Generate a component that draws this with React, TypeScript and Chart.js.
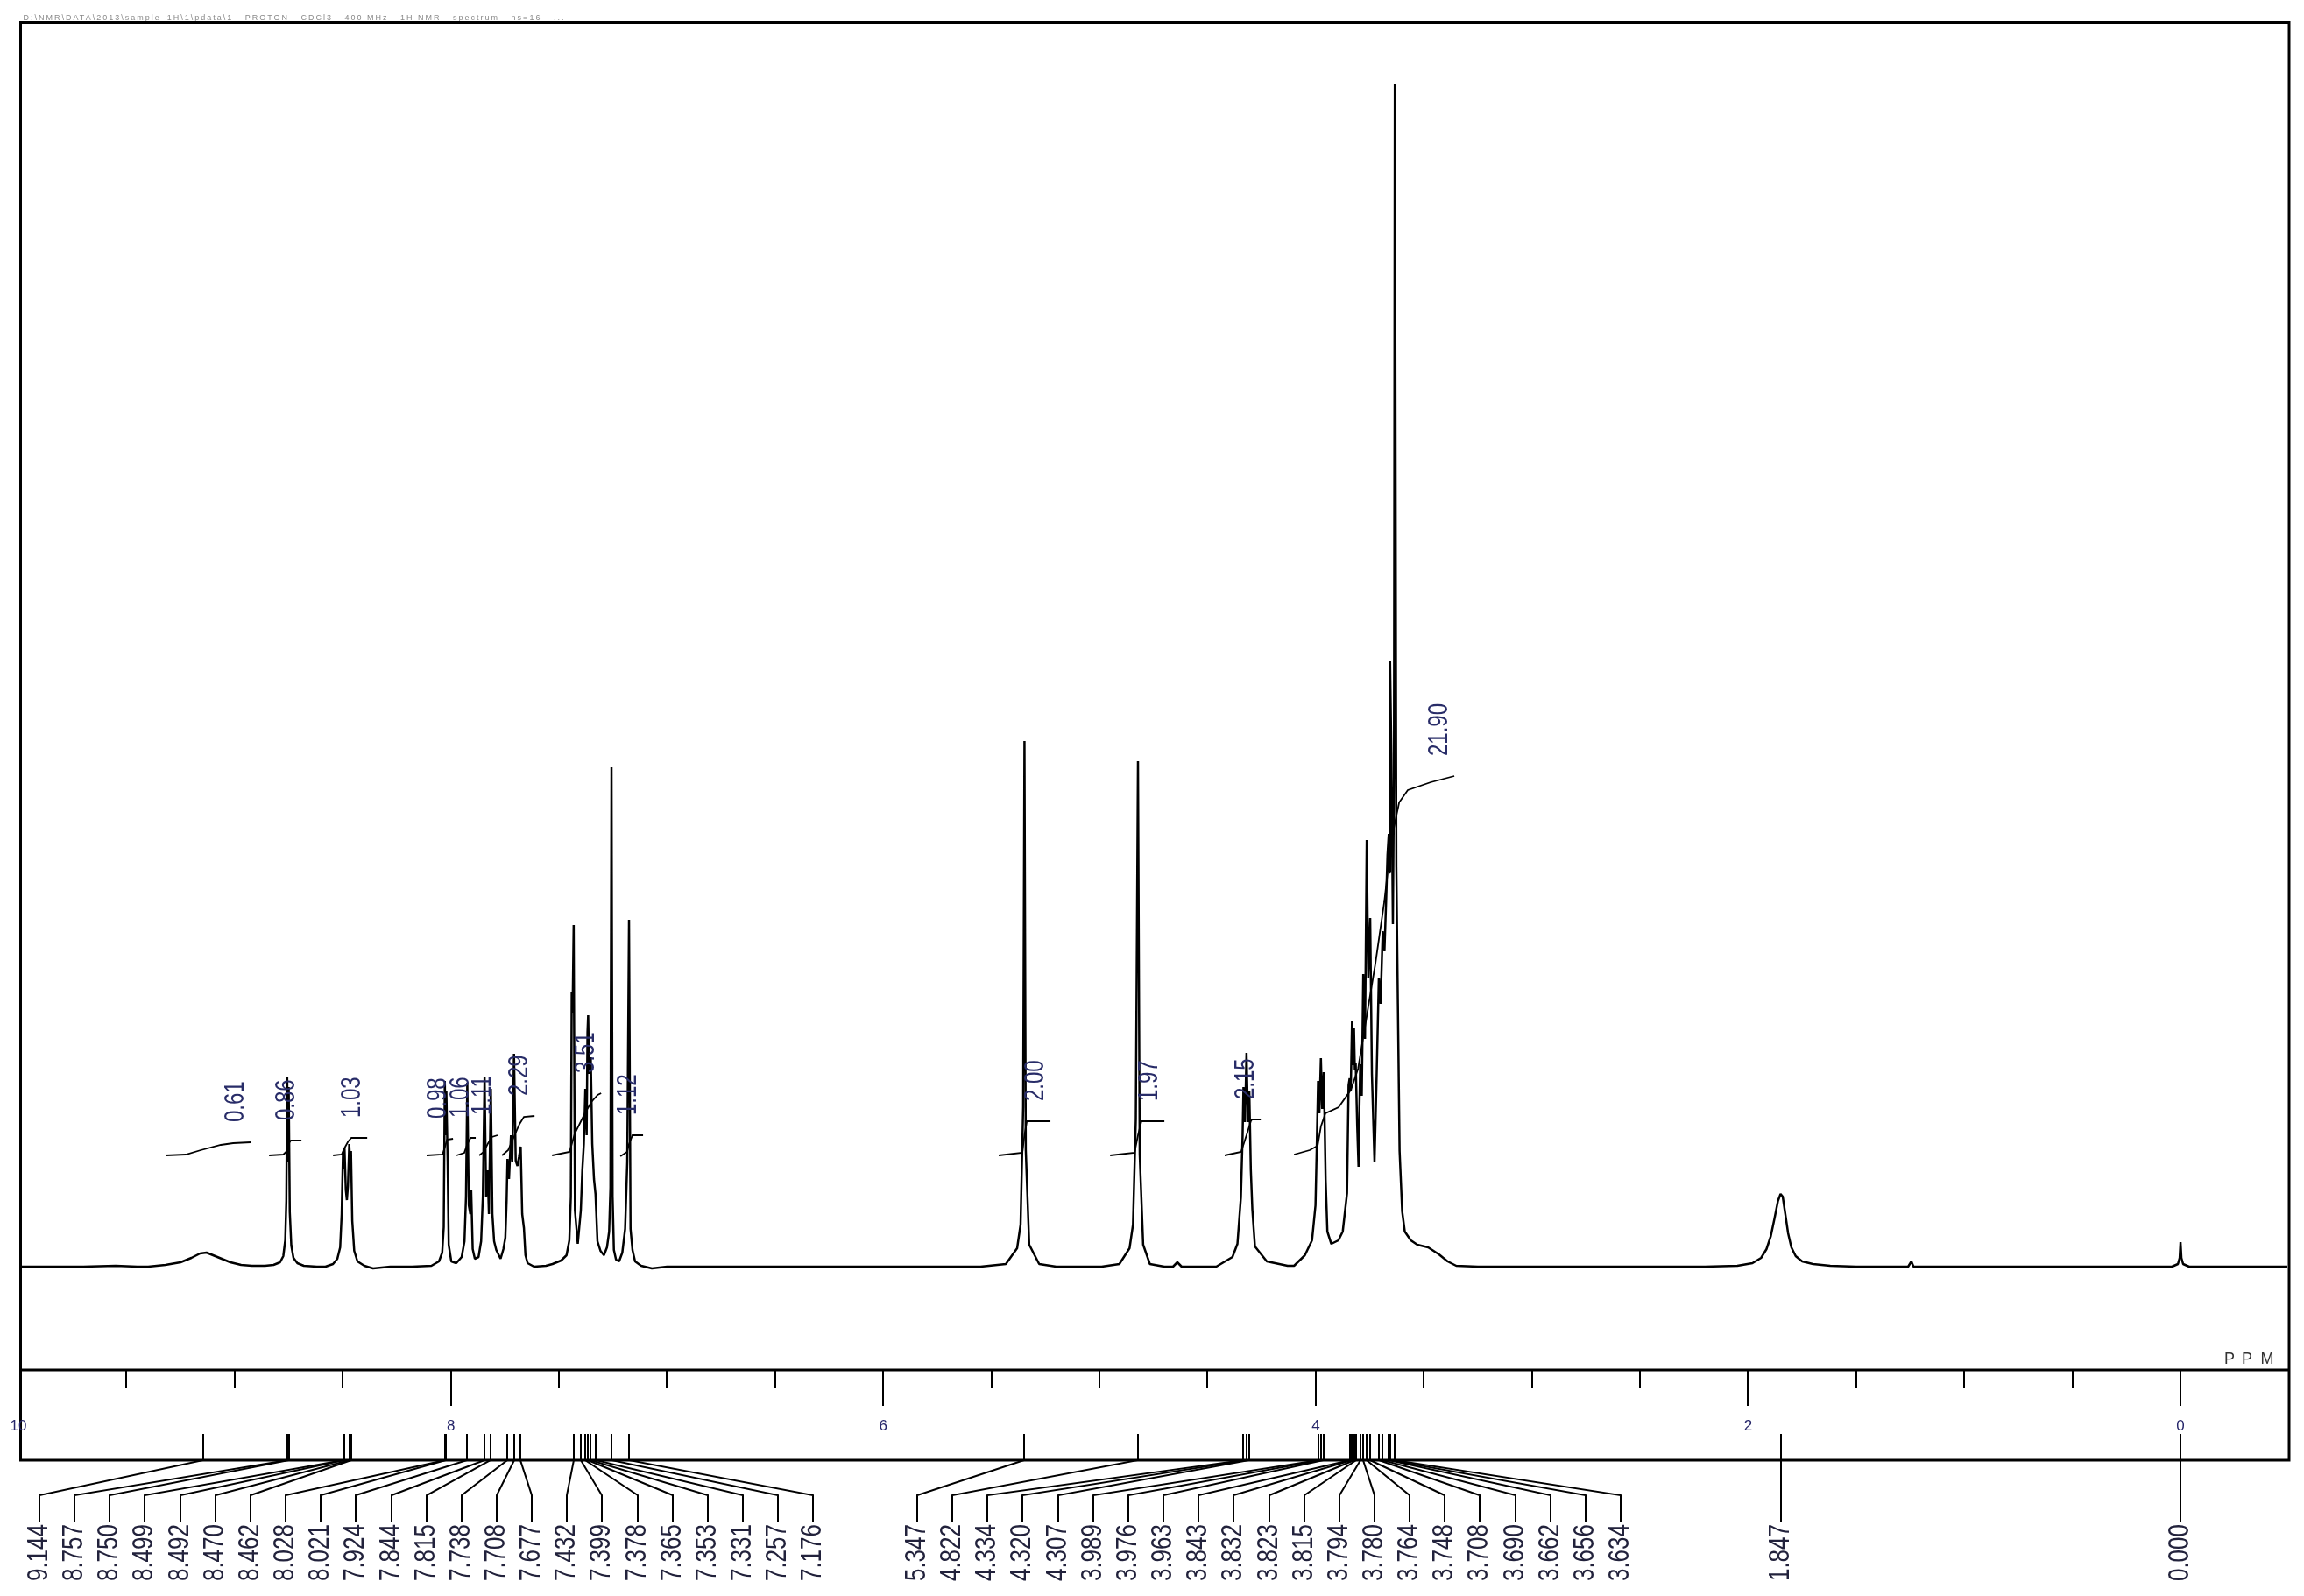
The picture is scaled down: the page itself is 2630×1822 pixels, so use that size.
import React, { useEffect, useRef } from "react";
import { Chart, registerables } from "chart.js";

Chart.register(...registerables);

// ---------- axis range (ppm, reversed) and intensity range ----------
const ppmMax = 9.984;
const ppmMin = -0.494;
const intensityMin = -117;
const intensityMax = 1419;

const majorTicks = [10, 8, 6, 4, 2, 0];
const minorTicks = [9.5, 9, 8.5, 7.5, 7, 6.5, 5.5, 5, 4.5, 3.5, 3, 2.5, 1.5, 1, 0.5];

// ---------- spectrum trace: [ppm, intensity] vertices ----------
const traceEdgeLeft = [[9.984, 0], [9.7, 0], [9.55, 1], [9.45, 0]];
const traceHump914 = [[9.4, 0], [9.32, 2], [9.25, 5], [9.2, 10], [9.16, 15], [9.13, 16], [9.1, 13], [9.06, 9], [9.02, 5], [8.97, 2], [8.92, 1], [8.86, 1]];
const traceDoublet875 = [[8.82, 2], [8.79, 5], [8.775, 12], [8.766, 30], [8.761, 75], [8.757, 217], [8.7535, 120], [8.75, 205], [8.745, 62], [8.738, 24], [8.728, 10], [8.71, 4], [8.68, 1], [8.62, 0]];
const traceMultiplet848 = [[8.58, 0], [8.545, 3], [8.525, 9], [8.512, 22], [8.505, 60], [8.499, 130], [8.4955, 112], [8.492, 136], [8.486, 88], [8.481, 76], [8.476, 92], [8.47, 140], [8.466, 118], [8.462, 132], [8.456, 52], [8.447, 18], [8.432, 6], [8.4, 1], [8.36, -2], [8.28, 0]];
const traceAromatic80to76 = [[8.18, 0], [8.09, 1], [8.055, 6], [8.04, 16], [8.033, 45], [8.028, 212], [8.0245, 150], [8.021, 200], [8.015, 121], [8.01, 25], [7.998, 6], [7.975, 4], [7.95, 11], [7.937, 29], [7.93, 80], [7.924, 210], [7.917, 70], [7.91, 60], [7.906, 88], [7.899, 20], [7.889, 9], [7.872, 11], [7.86, 29], [7.852, 80], [7.844, 216], [7.837, 80], [7.83, 110], [7.824, 60], [7.815, 203], [7.808, 60], [7.8, 29], [7.79, 19], [7.77, 9], [7.757, 20], [7.748, 33], [7.742, 76], [7.738, 123], [7.731, 100], [7.722, 150], [7.716, 120], [7.708, 243], [7.7, 121], [7.692, 115], [7.685, 125], [7.677, 137], [7.67, 60], [7.662, 44], [7.655, 13], [7.645, 4], [7.615, 0]];
const traceAromatic75to71 = [[7.56, 1], [7.53, 3], [7.49, 7], [7.465, 13], [7.452, 30], [7.445, 80], [7.441, 313], [7.437, 290], [7.432, 390], [7.426, 64], [7.413, 26], [7.406, 45], [7.399, 64], [7.392, 110], [7.385, 140], [7.378, 203], [7.372, 150], [7.368, 268], [7.365, 287], [7.36, 220], [7.353, 239], [7.346, 140], [7.338, 100], [7.331, 83], [7.322, 29], [7.308, 18], [7.292, 13], [7.278, 22], [7.268, 40], [7.262, 90], [7.257, 570], [7.252, 80], [7.246, 19], [7.236, 8], [7.222, 6], [7.207, 16], [7.194, 43], [7.184, 120], [7.176, 396], [7.169, 43], [7.16, 19], [7.148, 6], [7.12, 1], [7.07, -2], [7.0, 0]];
const traceSinglet535 = [[5.55, 0], [5.433, 3], [5.381, 21], [5.365, 48], [5.353, 182], [5.347, 600], [5.341, 133], [5.325, 25], [5.279, 3], [5.2, 0]];
const traceSinglet482 = [[4.99, 0], [4.908, 3], [4.861, 21], [4.845, 48], [4.832, 168], [4.822, 577], [4.814, 128], [4.798, 25], [4.767, 3], [4.7, 0], [4.66, 0], [4.64, 5], [4.62, 0], [4.5, 0]];
const traceTriplet432 = [[4.46, 0], [4.385, 11], [4.362, 26], [4.346, 79], [4.338, 150], [4.334, 205], [4.327, 165], [4.32, 244], [4.313, 165], [4.307, 200], [4.3, 110], [4.293, 65], [4.281, 23], [4.226, 6], [4.13, 1]];
const traceAliphatic40to34 = [[4.1, 1], [4.05, 13], [4.017, 30], [4.001, 70], [3.995, 138], [3.989, 212], [3.983, 175], [3.976, 238], [3.97, 180], [3.963, 222], [3.958, 158], [3.954, 99], [3.946, 40], [3.928, 26], [3.895, 30], [3.875, 40], [3.855, 84], [3.848, 207], [3.843, 215], [3.838, 200], [3.832, 280], [3.827, 230], [3.823, 272], [3.819, 225], [3.815, 232], [3.808, 160], [3.802, 114], [3.798, 180], [3.794, 231], [3.787, 195], [3.78, 334], [3.772, 260], [3.764, 487], [3.757, 330], [3.748, 398], [3.74, 220], [3.728, 119], [3.718, 220], [3.708, 330], [3.7, 300], [3.69, 383], [3.682, 360], [3.674, 420], [3.668, 470], [3.662, 494], [3.659, 450], [3.656, 691], [3.65, 586], [3.643, 391], [3.638, 560], [3.634, 1350], [3.627, 456], [3.62, 300], [3.612, 132], [3.6, 63], [3.588, 40], [3.56, 30], [3.53, 25], [3.48, 22], [3.43, 14], [3.39, 6], [3.35, 1], [3.25, 0]];
const traceBroad185 = [[2.2, 0], [2.05, 1], [1.98, 4], [1.94, 10], [1.915, 20], [1.895, 35], [1.878, 55], [1.862, 75], [1.85, 83], [1.84, 80], [1.828, 60], [1.815, 38], [1.8, 22], [1.78, 12], [1.75, 6], [1.7, 3], [1.62, 1], [1.5, 0], [1.26, 0], [1.245, 6], [1.235, 0]];
const traceTms = [[0.04, 0], [0.012, 3], [0.004, 10], [0.0, 28], [-0.004, 10], [-0.012, 3], [-0.04, 0], [-0.494, 0]];

// ---------- integral curves: [ppm, level] ----------
const integralLabels = ["0.61", "0.86", "1.03", "0.98", "1.06", "1.11", "2.29", "3.51", "1.12", "2.00", "1.97", "2.15", "21.90"];
const integral061 = [[9.319, 127], [9.226, 128], [9.157, 133], [9.064, 139], [9.007, 141], [8.926, 142]];
const integral086 = [[8.841, 127], [8.775, 128], [8.762, 131], [8.752, 140], [8.74, 144], [8.691, 144]];
const integral103 = [[8.545, 127], [8.505, 128], [8.495, 134], [8.475, 143], [8.46, 147], [8.387, 147]];
const integral098 = [[8.112, 127], [8.039, 128], [8.028, 136], [8.018, 145], [7.99, 146]];
const integral106 = [[7.974, 127], [7.938, 130], [7.924, 140], [7.909, 147], [7.885, 147]];
const integral111 = [[7.869, 127], [7.848, 131], [7.83, 140], [7.81, 148], [7.784, 150]];
const integral229 = [[7.763, 127], [7.735, 133], [7.707, 149], [7.682, 163], [7.662, 171], [7.613, 172]];
const integral351 = [[7.532, 127], [7.451, 131], [7.427, 152], [7.378, 176], [7.35, 188], [7.321, 196], [7.305, 198]];
const integral112 = [[7.216, 126], [7.185, 131], [7.176, 140], [7.16, 150], [7.111, 150]];
const integral200 = [[5.466, 127], [5.357, 130], [5.347, 150], [5.336, 166], [5.227, 166]];
const integral197 = [[4.951, 127], [4.838, 130], [4.822, 150], [4.806, 166], [4.7, 166]];
const integral215 = [[4.421, 127], [4.345, 131], [4.32, 150], [4.3, 166], [4.295, 168], [4.254, 168]];
const integral2190 = [[4.1, 128], [4.028, 133], [3.991, 138], [3.976, 160], [3.955, 175], [3.894, 182], [3.837, 202], [3.804, 226], [3.764, 286], [3.724, 346], [3.683, 416], [3.651, 486], [3.614, 530], [3.574, 544], [3.468, 553], [3.359, 560]];

// ---------- peak picks ----------
const peaksAromatic = [9.144, 8.757, 8.75, 8.499, 8.492, 8.47, 8.462, 8.028, 8.021, 7.924, 7.844, 7.815, 7.738, 7.708, 7.677, 7.432, 7.399, 7.378, 7.365, 7.353, 7.331, 7.257, 7.176];
const peaksMid = [5.347, 4.822, 4.334, 4.32, 4.307, 3.989, 3.976, 3.963, 3.843, 3.832, 3.823, 3.815, 3.794, 3.78, 3.764, 3.748, 3.708, 3.69, 3.662, 3.656, 3.634];
const peaksHigh = [1.847, 0.0];

const titleText = "D:\\NMR\\DATA\\2013\\sample_1H\\1\\pdata\\1   PROTON   CDCl3   400 MHz   1H NMR   spectrum   ns=16   ...";

const spectrum = [
  ...traceEdgeLeft, ...traceHump914, ...traceDoublet875, ...traceMultiplet848,
  ...traceAromatic80to76, ...traceAromatic75to71, ...traceSinglet535, ...traceSinglet482,
  ...traceTriplet432, ...traceAliphatic40to34, ...traceBroad185, ...traceTms,
];
const integralCurves = [integral061, integral086, integral103, integral098, integral106, integral111, integral229, integral351, integral112, integral200, integral197, integral215, integral2190];

const FONT = "'Liberation Sans', Arial, sans-serif";

function drawRotated(ctx: CanvasRenderingContext2D, text: string, x: number, y: number, align: CanvasTextAlign, size: number, stretch: number, color: string) {
  ctx.save();
  ctx.translate(x, y);
  ctx.rotate(-Math.PI / 2);
  ctx.scale(1, stretch);
  ctx.font = `${size}px ${FONT}`;
  ctx.fillStyle = color;
  ctx.textAlign = align;
  ctx.textBaseline = "middle";
  ctx.fillText(text, 0, 0);
  ctx.restore();
}

const overlayPlugin = {
  id: "nmrOverlay",
  afterDraw(chart: any) {
    const ctx: CanvasRenderingContext2D = chart.ctx;
    const a = chart.chartArea;
    const xs = chart.scales.x;
    const ys = chart.scales.y;
    const L = a.left - 1.5;
    const R = a.right + 2;
    const T = a.top - 1.5;
    const MID = a.bottom + 1;
    const BOT = MID + 103;

    ctx.save();
    // header line
    ctx.fillStyle = "#8a8a8a";
    ctx.font = `9px ${FONT}`;
    ctx.textAlign = "left";
    ctx.textBaseline = "alphabetic";
    (ctx as any).letterSpacing = "2px";
    ctx.fillText(titleText, L + 3, T - 3);
    (ctx as any).letterSpacing = "0px";

    // frame
    ctx.strokeStyle = "#000";
    ctx.lineWidth = 3;
    ctx.strokeRect(L, T, R - L, BOT - T);
    ctx.beginPath();
    ctx.moveTo(L, MID);
    ctx.lineTo(R, MID);
    ctx.stroke();

    // ticks
    ctx.lineWidth = 2;
    ctx.beginPath();
    for (const p of minorTicks) {
      const px = Math.round(xs.getPixelForValue(p));
      ctx.moveTo(px, MID);
      ctx.lineTo(px, MID + 20);
    }
    for (const p of majorTicks) {
      if (p >= ppmMax) continue;
      const px = Math.round(xs.getPixelForValue(p));
      ctx.moveTo(px, MID);
      ctx.lineTo(px, MID + 41);
    }
    ctx.stroke();

    // tick labels
    ctx.font = `17px ${FONT}`;
    ctx.fillStyle = "#26266a";
    ctx.textAlign = "center";
    ctx.textBaseline = "alphabetic";
    for (const p of majorTicks) {
      ctx.fillText(String(p), xs.getPixelForValue(p), MID + 69);
    }

    // PPM unit
    ctx.font = `18px ${FONT}`;
    ctx.fillStyle = "#333";
    ctx.fillText("P", R - 68, a.bottom - 6);
    ctx.fillText("P", R - 48, a.bottom - 6);
    ctx.fillText("M", R - 25, a.bottom - 6);

    // peak markers, connectors, labels
    const groups = [
      { peaks: peaksAromatic, start: 45, step: 40.15 },
      { peaks: peaksMid, start: 1047, step: 40.15 },
      { peaks: peaksHigh, start: null as null | number, step: 0 },
    ];
    ctx.strokeStyle = "#000";
    ctx.lineWidth = 2;
    for (const g of groups) {
      g.peaks.forEach((p, i) => {
        const px = Math.round(xs.getPixelForValue(p));
        const lx = g.start === null ? px : Math.round(g.start + i * g.step);
        ctx.beginPath();
        ctx.moveTo(px, BOT - 30);
        ctx.lineTo(px, BOT);
        ctx.lineTo(lx, BOT + 40);
        ctx.lineTo(lx, BOT + 71);
        ctx.stroke();
        drawRotated(ctx, p.toFixed(3), lx, BOT + 73, "right", 26, 1.28, "#22223c");
      });
    }

    // integral labels
    integralCurves.forEach((curve, i) => {
      const last = curve[curve.length - 1];
      const ex = xs.getPixelForValue(last[0]);
      const ey = ys.getPixelForValue(last[1]);
      drawRotated(ctx, integralLabels[i], ex - 17, ey - 23, "left", 24, 1.3, "#282c68");
    });
    ctx.restore();
  },
};

export default function App() {
  const ref = useRef<HTMLCanvasElement>(null);
  useEffect(() => {
    const canvas = ref.current;
    if (!canvas) return;
    const datasets: any[] = [
      {
        label: "spectrum",
        data: spectrum.map(([x, y]) => ({ x, y })),
        showLine: true,
        borderColor: "#000",
        borderWidth: 2.5,
        borderJoinStyle: "bevel",
        pointRadius: 0,
        pointHoverRadius: 0,
        fill: false,
        tension: 0,
      },
      ...integralCurves.map((c, i) => ({
        label: "integral " + integralLabels[i],
        data: c.map(([x, y]) => ({ x, y })),
        showLine: true,
        borderColor: "#000",
        borderWidth: 1.8,
        pointRadius: 0,
        pointHoverRadius: 0,
        fill: false,
        tension: 0,
      })),
    ];
    const chart = new Chart(canvas, {
      type: "scatter",
      data: { datasets },
      options: {
        responsive: false,
        animation: false,
        devicePixelRatio: 1,
        events: [],
        layout: { padding: { left: 25, right: 19, top: 27, bottom: 259 } },
        plugins: { legend: { display: false }, tooltip: { enabled: false }, title: { display: false } },
        scales: {
          x: { type: "linear", reverse: true, min: ppmMin, max: ppmMax, display: false },
          y: { type: "linear", min: intensityMin, max: intensityMax, display: false },
        },
      },
      plugins: [overlayPlugin],
    } as any);
    return () => chart.destroy();
  }, []);
  return (
    <div style={{ position: "absolute", left: 0, top: 0, width: 2630, height: 1822, background: "#fff" }}>
      <canvas ref={ref} width={2630} height={1822} style={{ display: "block", width: 2630, height: 1822 }} />
    </div>
  );
}
